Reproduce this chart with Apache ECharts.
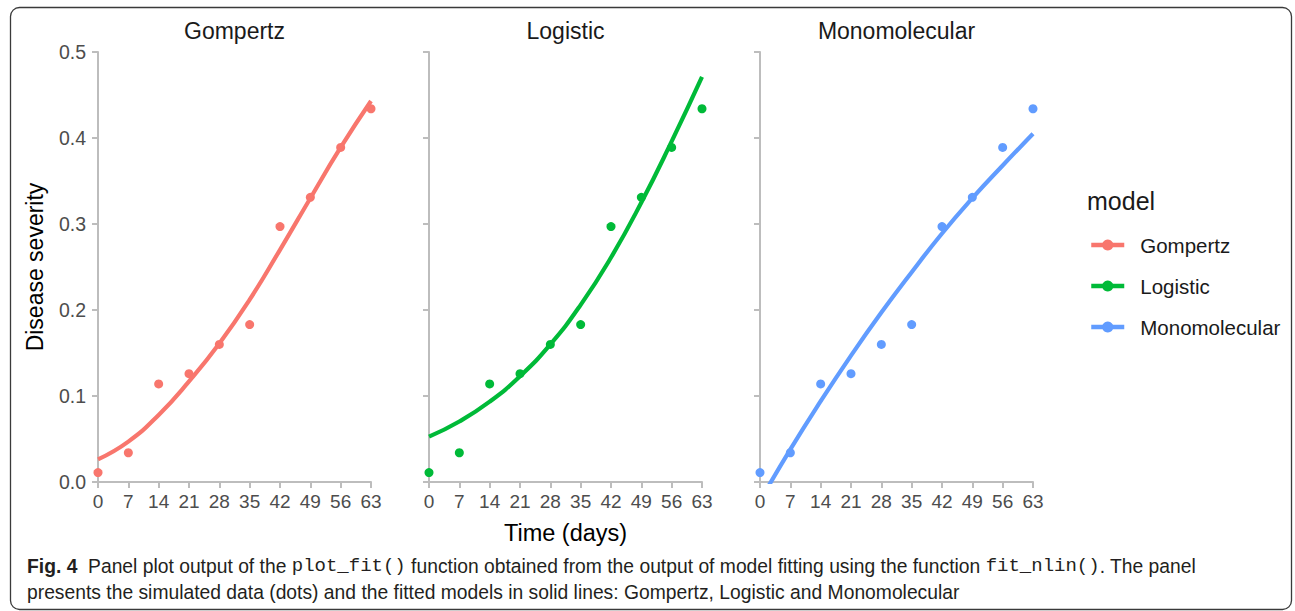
<!DOCTYPE html>
<html>
<head>
<meta charset="utf-8">
<script src="https://cdn.jsdelivr.net/npm/echarts@6/dist/echarts.min.js"></script>
<style>
html,body{margin:0;padding:0;background:#fff;}
#chart{width:1295px;height:611px;}
</style>
</head>
<body>
<div id="chart"></div>
<script>
// ---- data ----
const models = ['Gompertz', 'Logistic', 'Monomolecular'];
const colors = ['#F8766D', '#00BA38', '#619CFF'];
const days = [0, 7, 14, 21, 28, 35, 42, 49, 56, 63];
const observed = [0.011, 0.034, 0.114, 0.126, 0.160, 0.183, 0.297, 0.331, 0.389, 0.434];
const gompertzFit = [0.0264, 0.047, 0.078, 0.117, 0.161, 0.212, 0.270, 0.330, 0.389, 0.443];
const logisticFit = [0.0527, 0.0704, 0.0934, 0.123, 0.160, 0.206, 0.261, 0.325, 0.396, 0.471];
const monomolecularFit = [-0.022, 0.038, 0.094, 0.147, 0.197, 0.244, 0.289, 0.330, 0.368, 0.405];
const xTicks = [0, 63, 7];     // min, max, interval
const yTicks = [0, 0.5, 0.1];  // min, max, interval
const fits = [gompertzFit, logisticFit, monomolecularFit];

const chart = echarts.init(document.getElementById('chart'), null, {renderer: 'svg'});
const FONT = 'Liberation Sans, Arial, sans-serif';
const gridLefts = [98, 429, 760];
const axisGray = '#BDBDBD';

const grids = gridLefts.map(l => ({left: l, top: 52, width: 273, height: 430}));
const xAxes = grids.map((g, i) => ({
  type: 'value', gridIndex: i, min: xTicks[0], max: xTicks[1], interval: xTicks[2],
  axisLine: {show: true, lineStyle: {color: axisGray, width: 2}},
  axisTick: {show: true, length: 6, lineStyle: {color: axisGray, width: 2}},
  splitLine: {show: false},
  axisLabel: {color: '#4D4D4D', fontSize: 19, fontFamily: FONT, margin: 10},
  name: i === 1 ? 'Time (days)' : '',
  nameLocation: 'middle', nameGap: 39,
  nameTextStyle: {color: '#000', fontSize: 23.5, fontFamily: FONT}
}));
const yAxes = grids.map((g, i) => ({
  type: 'value', gridIndex: i, min: yTicks[0], max: yTicks[1], interval: yTicks[2],
  axisLine: {show: true, lineStyle: {color: axisGray, width: 2}},
  axisTick: {show: true, length: 6, lineStyle: {color: axisGray, width: 2}},
  splitLine: {show: false},
  axisLabel: {show: i === 0, color: '#4D4D4D', fontSize: 19.5, fontFamily: FONT, margin: 12,
    formatter: v => v.toFixed(1)},
  name: i === 0 ? 'Disease severity' : '',
  nameLocation: 'middle', nameGap: 52, nameRotate: 90,
  nameTextStyle: {color: '#000', fontSize: 23, fontFamily: FONT}
}));

const series = [];
models.forEach((m, i) => {
  series.push({
    name: m, type: 'line', xAxisIndex: i, yAxisIndex: i,
    data: days.map((d, k) => [d, fits[i][k]]),
    smooth: 0.5, symbol: 'circle', symbolSize: 9, showSymbol: false,
    clip: true,
    lineStyle: {color: colors[i], width: 4.2},
    itemStyle: {color: colors[i]},
    z: 3
  });
  series.push({
    name: m + ' data', type: 'scatter', xAxisIndex: i, yAxisIndex: i,
    data: days.map((d, k) => [d, observed[k]]),
    symbol: 'circle', symbolSize: 9, clip: true,
    itemStyle: {color: colors[i], opacity: 1},
    z: 2
  });
});

const CAP_FONT = 'Liberation Sans, sans-serif';
const MONO = 'Liberation Mono, DejaVu Sans Mono, monospace';
const option = {
  backgroundColor: '#fff',
  animation: false,
  textStyle: {fontFamily: FONT},
  title: models.map((m, i) => ({
    text: m, left: gridLefts[i] + 136.5, top: 19, textAlign: 'center', padding: 0,
    textStyle: {color: '#1a1a1a', fontSize: 23, fontWeight: 'normal', fontFamily: FONT}
  })),
  grid: grids,
  xAxis: xAxes,
  yAxis: yAxes,
  legend: {
    data: models, orient: 'vertical', left: 1089, top: 234, padding: 0,
    itemWidth: 33, itemHeight: 14, itemGap: 19,
    lineStyle: {width: 4.5},
    textStyle: {color: '#1a1a1a', fontSize: 20.5, lineHeight: 22, fontFamily: FONT, padding: [0, 0, 0, 11]}
  },
  series: series,
  graphic: [
    {type: 'rect', shape: {x: 10.5, y: 7.5, width: 1281, height: 602, r: 9},
     style: {fill: 'none', stroke: '#3a3a3a', lineWidth: 1.3}, silent: true, z: 0},
    {type: 'text', left: 1087, top: 188,
     style: {text: 'model', fill: '#1a1a1a', fontSize: 25, fontFamily: FONT}},
    {type: 'text', left: 27, top: 553,
     style: {
       text: '{b|Fig. 4}  Panel plot output of the {m|plot_fit()} function obtained from the output of model fitting using the function {m|fit_nlin()}. The panel\npresents the simulated data (dots) and the fitted models in solid lines: Gompertz, Logistic and Monomolecular',
       fill: '#231F20', fontSize: 19.3, lineHeight: 26,
       fontFamily: CAP_FONT,
       rich: {
         b: {fontWeight: 'bold', fontSize: 19.3, lineHeight: 26, fill: '#231F20', fontFamily: CAP_FONT},
         m: {fontFamily: MONO, fontSize: 19, lineHeight: 26, fill: '#231F20'}
       }
     }}
  ]
};
chart.setOption(option);
</script>
</body>
</html>
